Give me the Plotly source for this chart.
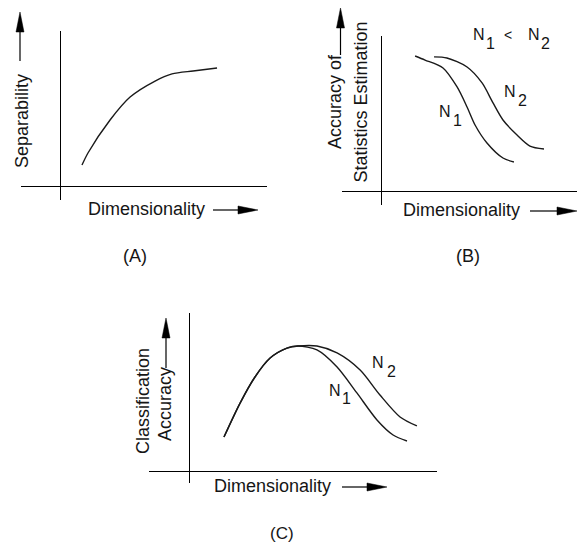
import plotly.graph_objects as go
import math

W, H = 577, 545

# ---------------- data ----------------
# Panel A: separability vs dimensionality
a_dim = [1.04, 1.33, 2.40, 3.37, 4.58, 5.40, 6.42, 7.58]
a_sep = [1.35, 2.13, 4.26, 5.74, 6.77, 7.23, 7.42, 7.61]

# Panel B: accuracy of statistics estimation vs dimensionality
b_dim_n1 = [1.71, 2.22, 3.14, 3.86, 4.37, 4.78, 5.39, 6.21, 6.77]
b_acc_n1 = [8.71, 8.45, 7.94, 6.71, 5.42, 4.26, 3.10, 2.13, 1.87]
b_dim_n2 = [2.68, 3.34, 4.37, 5.14, 5.70, 6.21, 6.93, 7.59, 8.31]
b_acc_n2 = [8.65, 8.58, 8.00, 6.97, 5.68, 4.58, 3.61, 2.90, 2.71]

# Panel C: classification accuracy vs dimensionality
c_dim_n1 = [1.41, 2.06, 2.66, 3.27, 3.95, 4.40, 5.16, 5.97, 6.77, 7.58, 8.23, 8.79]
c_acc_n1 = [2.15, 4.30, 5.95, 7.15, 7.78, 7.91, 7.66, 6.58, 4.94, 3.23, 2.28, 1.90]
c_dim_n2 = [1.41, 2.06, 2.66, 3.27, 3.95, 4.40, 5.16, 5.97, 6.90, 7.70, 8.51, 9.19]
c_acc_n2 = [2.15, 4.30, 5.95, 7.15, 7.78, 7.91, 7.91, 7.47, 6.39, 4.81, 3.42, 2.85]

x_title = "Dimensionality"
a_y_title = "Separability"
b_y_title = ["Accuracy of", "Statistics Estimation"]
c_y_title = ["Classification", "Accuracy"]
panel_tags = ["(A)", "(B)", "(C)"]

# ---------------- layout helpers ----------------
def px(x):
    return x / W

def py(y):
    return 1 - y / H

FONT = "Liberation Sans, Arial, sans-serif"
TXT = "#151515"
LINE = "#1a1a1a"

# panel boxes in pixels: (x0, x1, y0, y1), origin (ox, oy), units (ux, uy)
panels = {
    "": dict(box=(21, 267, 31, 200), org=(60.5, 186), unit=(20.65, 15.5)),
    "2": dict(box=(341.7, 577, 36, 205), org=(381.7, 191), unit=(19.53, 15.5)),
    "3": dict(box=(149, 437, 313, 483), org=(189, 471), unit=(24.8, 15.8)),
}

fig = go.Figure()

def add_curve(x, y, suffix):
    fig.add_trace(go.Scatter(
        x=x, y=y, mode="lines", xaxis="x" + suffix, yaxis="y" + suffix,
        line=dict(color=LINE, width=1.4, shape="spline", smoothing=0.8),
        hoverinfo="skip", showlegend=False))

add_curve(a_dim, a_sep, "")
add_curve(b_dim_n1, b_acc_n1, "2")
add_curve(b_dim_n2, b_acc_n2, "2")
add_curve(c_dim_n1, c_acc_n1, "3")
add_curve(c_dim_n2, c_acc_n2, "3")

layout = dict(
    width=W, height=H, autosize=False,
    margin=dict(l=0, r=0, t=0, b=0, pad=0),
    paper_bgcolor="white", plot_bgcolor="white",
    showlegend=False,
)
for s, p in panels.items():
    x0, x1, y0, y1 = p["box"]
    ox, oy = p["org"]
    ux, uy = p["unit"]
    common = dict(showgrid=False, showticklabels=False, ticks="", showline=False,
                  zeroline=True, zerolinecolor="black", zerolinewidth=1, fixedrange=True)
    layout["xaxis" + s] = dict(domain=[px(x0), px(x1)],
                               range=[(x0 - ox) / ux, (x1 - ox) / ux],
                               anchor="y" + s, **common)
    layout["yaxis" + s] = dict(domain=[py(y1), py(y0)],
                               range=[(oy - y1) / uy, (oy - y0) / uy],
                               anchor="x" + s, **common)
fig.update_layout(**layout)

annotations = []
def text(t, x, y, size=18, angle=0):
    annotations.append(dict(text=t, x=px(x), y=py(y), xref="paper", yref="paper",
                            xanchor="center", yanchor="middle", showarrow=False,
                            textangle=angle, font=dict(family=FONT, size=size, color=TXT)))

shapes = []
def arrow(x0, y0, x1, y1, head=20, half=4):
    # line from (x0,y0) to tip (x1,y1), in pixels
    dx, dy = x1 - x0, y1 - y0
    L = math.hypot(dx, dy)
    ux, uy = dx / L, dy / L
    bx, by = x1 - ux * head, y1 - uy * head
    shapes.append(dict(type="line", xref="paper", yref="paper",
                       x0=px(x0), y0=py(y0), x1=px(bx), y1=py(by),
                       line=dict(color="black", width=1.2)))
    nx, ny = -uy, ux
    pts = [(x1, y1), (bx + nx * half, by + ny * half), (bx - nx * half, by - ny * half)]
    path = "M " + " L ".join(f"{px(a):.5f},{py(b):.5f}" for a, b in pts) + " Z"
    shapes.append(dict(type="path", xref="paper", yref="paper", path=path,
                       fillcolor="black", line=dict(color="black", width=0.5)))

# Panel A
text(a_y_title, 22, 121, angle=-90)
arrow(20, 61, 20, 12)
text(x_title, 146.5, 209)
arrow(213, 210, 258, 210)
text(panel_tags[0], 135, 256)

# Panel B
text(b_y_title[0], 335, 102, angle=-90)
text(b_y_title[1], 361, 102.5, angle=-90)
arrow(340.5, 55, 340.5, 8)
text(x_title, 461, 210)
arrow(530, 211, 577, 211)
text(panel_tags[1], 468, 256)
text("N", 479, 34.5, size=16); text("1", 490, 43.5, size=16)
text("<", 508, 35, size=14)
text("N", 534, 34.5, size=16); text("2", 545, 43.5, size=16)
text("N", 445, 111, size=16); text("1", 457.5, 121, size=16)
text("N", 509.5, 91, size=16); text("2", 522, 101, size=16)

# Panel C
text(c_y_title[0], 143, 401, angle=-90)
text(c_y_title[1], 165, 404, angle=-90)
arrow(166, 368, 166, 318)
text(x_title, 272.5, 486)
arrow(342, 487, 387, 487)
text(panel_tags[2], 282, 533.5, size=17)
text("N", 335, 390, size=16); text("1", 346, 398.5, size=16)
text("N", 377.5, 362.5, size=16); text("2", 391, 371, size=16)

fig.update_layout(annotations=annotations, shapes=shapes)
fig.write_html(
    "out.html",
    config={"displayModeBar": False, "staticPlot": True},
    post_script="document.body.style.margin='0';document.body.style.overflow='hidden';",
)
